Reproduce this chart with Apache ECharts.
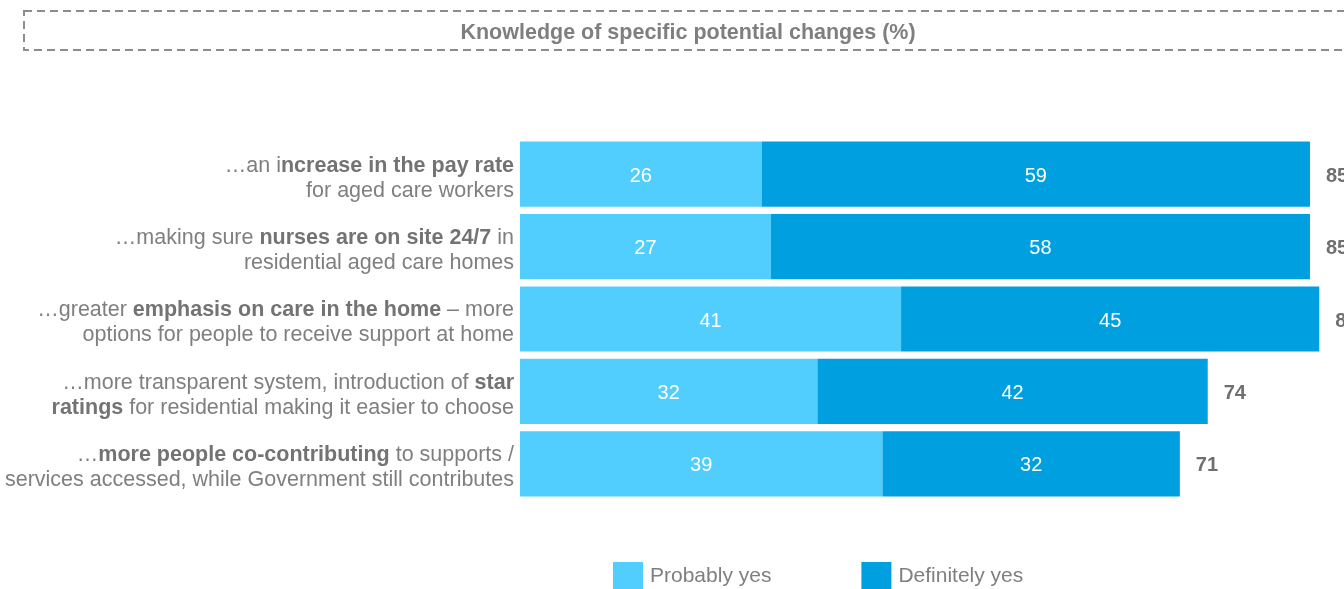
<!DOCTYPE html>
<html>
<head>
<meta charset="utf-8">
<script src="https://cdn.jsdelivr.net/npm/echarts@6/dist/echarts.min.js"></script>
<style>
  html, body { margin: 0; padding: 0; background: #fff; overflow: hidden; }
  #chart { width: 1344px; height: 589px; }
</style>
</head>
<body>
<div id="chart"></div>
<script>
// Category labels, with {b|...} marking the emphasised words
const categories = [
  '…an i{b|ncrease in the pay rate}\nfor aged care workers',
  '…making sure {b|nurses are on site 24/7} in\nresidential aged care homes',
  '…greater {b|emphasis on care in the home} – more\noptions for people to receive support at home',
  '…more transparent system, introduction of {b|star}\n{b|ratings} for residential making it easier to choose',
  '…{b|more people co-contributing} to supports /\nservices accessed, while Government still contributes'
];
const probablyYes = [26, 27, 41, 32, 39];
const definitelyYes = [59, 58, 45, 42, 32];
const totals = [85, 85, 86, 74, 71];

const LIGHT = '#52cefe';
const DARK = '#00a0e0';
const GREY = '#7f7f7f';
const FONT = '"Liberation Sans", Arial, sans-serif';

const chart = echarts.init(document.getElementById('chart'), null, { renderer: 'canvas' });

chart.setOption({
  animation: false,
  textStyle: { fontFamily: FONT },
  title: {
    text: 'Knowledge of specific potential changes (%)',
    left: 683,
    textAlign: 'center',
    top: 17,
    textStyle: { fontFamily: FONT, fontSize: 21.5, fontWeight: 'bold', color: GREY }
  },
  graphic: [{
    type: 'rect',
    shape: { x: 24, y: 11, width: 1400, height: 39 },
    style: { fill: 'none', stroke: '#8c8c8c', lineWidth: 2, lineDash: [8, 5] },
    silent: true
  }],
  legend: {
    data: ['Probably yes', 'Definitely yes'],
    left: 608,
    top: 557,
    itemWidth: 30,
    itemHeight: 28,
    itemGap: 90,
    icon: 'rect',
    textStyle: { fontFamily: FONT, fontSize: 21, color: GREY, padding: [2, 0, 0, 2] }
  },
  // the value scale is hidden; its upper bound sets how far the bars reach
  grid: { left: 520, top: 138, right: 0, height: 362, containLabel: false },
  xAxis: { type: 'value', min: 0, max: 88.66, show: false },
  yAxis: {
    type: 'category',
    inverse: true,
    data: categories,
    axisLine: { show: false },
    axisTick: { show: false },
    axisLabel: {
      margin: 6,
      fontFamily: FONT,
      fontSize: 21.5,
      lineHeight: 25,
      color: GREY,
      align: 'right',
      padding: [8, 0, 0, 0],
      rich: {
        b: { fontFamily: FONT, fontSize: 21.5, lineHeight: 25, fontWeight: 'bold', color: '#737373' }
      }
    }
  },
  series: [
    {
      name: 'Probably yes',
      type: 'bar',
      stack: 'know',
      barCategoryGap: '10%',
      data: probablyYes,
      itemStyle: { color: LIGHT },
      label: { show: true, position: 'inside', offset: [0, 2], color: '#fff', fontSize: 20, fontFamily: FONT }
    },
    {
      name: 'Definitely yes',
      type: 'bar',
      stack: 'know',
      data: definitelyYes,
      itemStyle: { color: DARK },
      label: { show: true, position: 'inside', offset: [0, 2], color: '#fff', fontSize: 20, fontFamily: FONT }
    },
    {
      name: 'Total',
      type: 'bar',
      data: totals,
      barGap: '-100%',
      z: 1,
      itemStyle: { color: 'rgba(0,0,0,0)' },
      label: {
        show: true, position: 'right', distance: 16, offset: [0, 2],
        color: '#6f6f6f', fontSize: 20, fontWeight: 'bold', fontFamily: FONT
      },
      emphasis: { disabled: true },
      tooltip: { show: false }
    }
  ]
});
</script>
</body>
</html>
